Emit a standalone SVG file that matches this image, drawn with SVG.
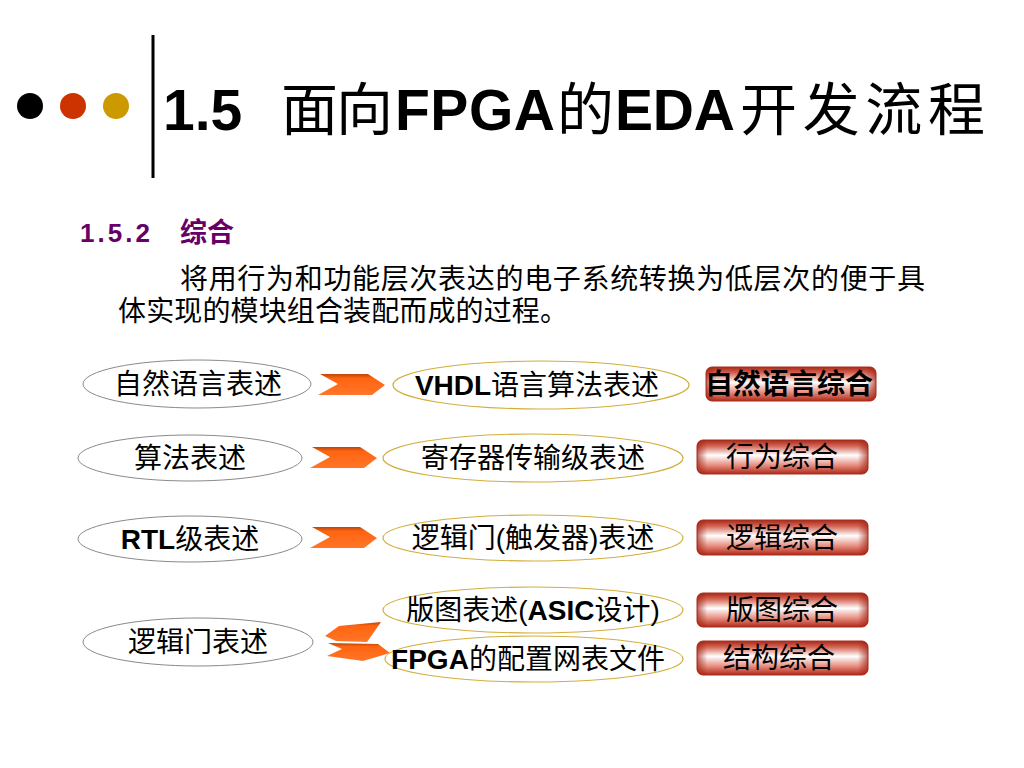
<svg xmlns="http://www.w3.org/2000/svg" width="1024" height="768" viewBox="0 0 1024 768">
<style>
.t{font-family:"Liberation Sans","Noto Sans CJK SC",sans-serif;fill:#000}
.lbl{font-size:28px;text-anchor:middle}
.b{font-weight:bold}
.le{fill:#fff;stroke:#8a8a8a;stroke-width:1}
.me{fill:#fff;stroke:#d2ae3c;stroke-width:1.2}
.bx{fill:url(#gv);stroke:#a83020;stroke-width:1}
.ov{fill:url(#gh)}
.ar{fill:url(#ga)}
</style>
<defs>
<linearGradient id="gv" x1="0" y1="0" x2="0" y2="1">
<stop offset="0" stop-color="#a82818"/>
<stop offset="0.18" stop-color="#d46656"/>
<stop offset="0.45" stop-color="#ffffff"/>
<stop offset="0.75" stop-color="#e58a7c"/>
<stop offset="1" stop-color="#b02818"/>
</linearGradient>
<linearGradient id="gh" x1="0" y1="0" x2="1" y2="0">
<stop offset="0" stop-color="#a02010" stop-opacity="0.7"/>
<stop offset="0.06" stop-color="#a02010" stop-opacity="0"/>
<stop offset="0.94" stop-color="#a02010" stop-opacity="0"/>
<stop offset="1" stop-color="#a02010" stop-opacity="0.7"/>
</linearGradient>
<linearGradient id="ga" x1="0" y1="0" x2="0" y2="1">
<stop offset="0" stop-color="#b8460c"/>
<stop offset="0.2" stop-color="#ff6410"/>
<stop offset="1" stop-color="#ff7628"/>
</linearGradient>
<path id="chev" d="M2,0 L50,0 L67,11 L54,21 L0,21 L20,10 Z"/>
</defs>

<g id="header">
<circle cx="30" cy="106" r="13" fill="#000"/>
<circle cx="73" cy="106" r="13" fill="#cc3300"/>
<circle cx="116" cy="106" r="13" fill="#cc9900"/>
<rect x="151.5" y="35" width="3" height="143" fill="#000"/>
<text class="t" y="130" font-size="57"><tspan class="b" x="163">1.5</tspan><tspan x="281" textLength="112">面向</tspan><tspan class="b" x="395" textLength="160">FPGA</tspan><tspan x="557">的</tspan><tspan class="b" x="615" textLength="120">EDA</tspan><tspan x="740" textLength="245">开发流程</tspan></text>
<text class="t b" y="242" style="fill:#660066"><tspan x="80" font-size="26" textLength="70">1.5.2</tspan><tspan x="180" font-size="27">综合</tspan></text>
<text class="t" x="180" y="289" font-size="28" textLength="745">将用行为和功能层次表达的电子系统转换为低层次的便于具</text>
<text class="t" x="118" y="321" font-size="28" textLength="450">体实现的模块组合装配而成的过程。</text>
</g>

<g id="connectors">
<use href="#chev" class="ar" transform="translate(318,374)"/>
<use href="#chev" class="ar" transform="translate(310,447)"/>
<use href="#chev" class="ar" transform="translate(310,527)"/>
<path class="ar" d="M325,636 L339,626 L381,622 L367,642 L336,641 Z"/>
<path class="ar" d="M328,643 L378,644 L390,653 L363,661 L327,656 L342,649 Z"/>
</g>

<g id="n1"><ellipse class="le" cx="197" cy="384" rx="114" ry="24"/><text class="t lbl" x="198" y="394">自然语言表述</text></g>
<g id="n2"><ellipse class="le" cx="190" cy="458" rx="112" ry="23"/><text class="t lbl" x="190" y="468">算法表述</text></g>
<g id="n3"><ellipse class="le" cx="190" cy="539" rx="112" ry="23"/><text class="t lbl" x="190" y="549"><tspan class="b">RTL</tspan>级表述</text></g>
<g id="n4"><ellipse class="le" cx="198" cy="642" rx="115" ry="24"/><text class="t lbl" x="198" y="652">逻辑门表述</text></g>

<g id="m1"><ellipse class="me" cx="541" cy="385" rx="148" ry="24"/><text class="t lbl" x="537" y="395"><tspan class="b">VHDL</tspan>语言算法表述</text></g>
<g id="m2"><ellipse class="me" cx="533" cy="458" rx="150" ry="24"/><text class="t lbl" x="533" y="468">寄存器传输级表述</text></g>
<g id="m3"><ellipse class="me" cx="533" cy="538" rx="150" ry="23"/><text class="t lbl" x="533" y="548">逻辑门(触发器)表述</text></g>
<g id="m4"><ellipse class="me" cx="533" cy="610" rx="150" ry="23"/><text class="t lbl" x="533" y="620">版图表述(<tspan class="b">ASIC</tspan>设计)</text></g>
<g id="m5"><ellipse class="me" cx="534" cy="659" rx="149" ry="23"/><text class="t lbl" x="528" y="669"><tspan class="b">FPGA</tspan>的配置网表文件</text></g>

<g id="b1"><rect class="bx" x="706" y="367" width="170" height="34" rx="6"/><rect class="ov" x="706" y="367" width="170" height="34" rx="6"/><text class="t lbl b" x="789" y="394">自然语言综合</text></g>
<g id="b2"><rect class="bx" x="697" y="440" width="171" height="34" rx="6"/><rect class="ov" x="697" y="440" width="171" height="34" rx="6"/><text class="t lbl" x="782" y="467">行为综合</text></g>
<g id="b3"><rect class="bx" x="697" y="520" width="171" height="35" rx="6"/><rect class="ov" x="697" y="520" width="171" height="35" rx="6"/><text class="t lbl" x="782" y="548">逻辑综合</text></g>
<g id="b4"><rect class="bx" x="697" y="593" width="171" height="34" rx="6"/><rect class="ov" x="697" y="593" width="171" height="34" rx="6"/><text class="t lbl" x="782" y="620">版图综合</text></g>
<g id="b5"><rect class="bx" x="697" y="641" width="171" height="34" rx="6"/><rect class="ov" x="697" y="641" width="171" height="34" rx="6"/><text class="t lbl" x="779" y="668">结构综合</text></g>
</svg>
